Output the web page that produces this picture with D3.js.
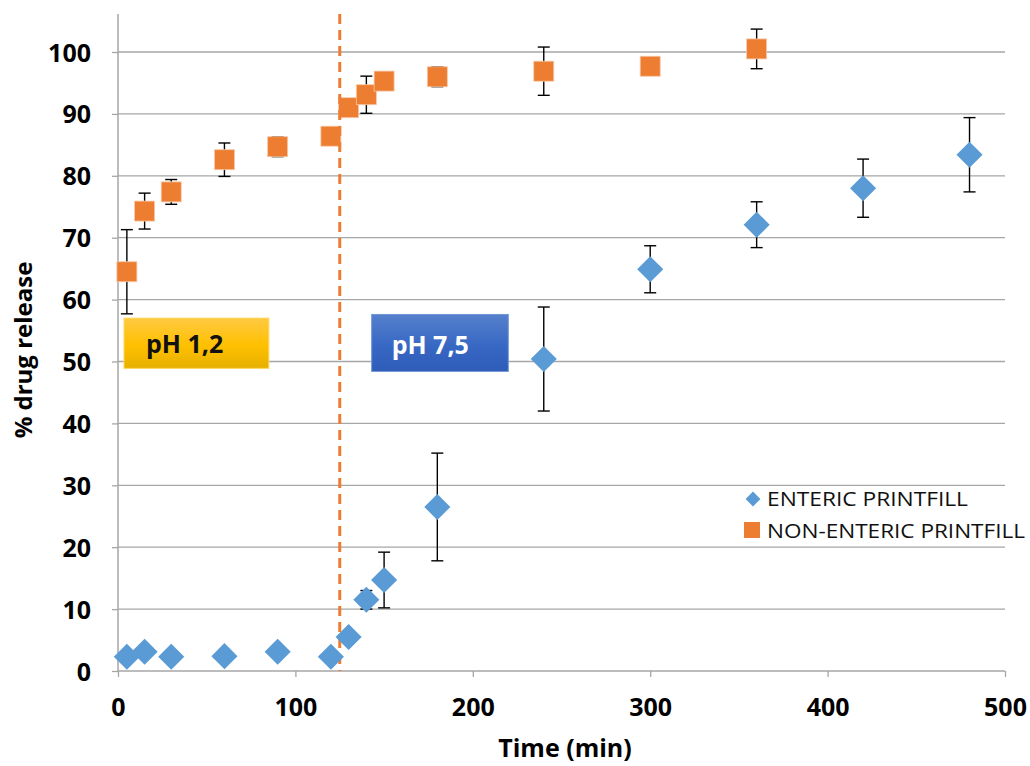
<!DOCTYPE html>
<html><head><meta charset="utf-8">
<script src="https://cdn.jsdelivr.net/npm/d3@7"></script>
<style>body{margin:0;background:#fff}</style>
</head><body>
<script>
const timeEnteric = [5,15,30,60,90,120,130,140,150,180,240,300,360,420,480];
const enteric =     [2.3,3.1,2.3,2.4,3.1,2.3,5.5,11.5,14.7,26.5,50.4,64.9,72.1,78.0,83.4];
const entericErr =  [0,0,0,0,0,0,0.8,1.5,4.5,8.7,8.4,3.8,3.7,4.7,6.0];
const timeNon = [5,15,30,60,90,120,130,140,150,180,240,300,360];
const nonEnteric =    [64.5,74.3,77.4,82.6,84.7,86.4,91.0,93.1,95.3,96.0,96.9,97.7,100.5];
const nonEntericErr = [6.8,2.9,2.0,2.7,1.6,0.4,0,3.0,0,1.6,3.9,0,3.2];
const xTicks = [0,100,200,300,400,500];
const yTicks = [0,10,20,30,40,50,60,70,80,90,100];
const seriesNames = ["ENTERIC PRINTFILL","NON-ENTERIC PRINTFILL"];
const phLabels = ["pH 1,2","pH 7,5"];
const phChange = 125;

const W=1030,H=766;
const svg=d3.select("body").append("svg").attr("width",W).attr("height",H);
const x=d3.scaleLinear().domain([0,500]).range([118,1005]);
const y=d3.scaleLinear().domain([0,100]).range([671,52]);
const font="'Open Sans', 'Liberation Sans', sans-serif";

const defs=svg.append("defs");
const g1=defs.append("linearGradient").attr("id","gold").attr("x1",0).attr("y1",0).attr("x2",0).attr("y2",1);
g1.append("stop").attr("offset","0%").attr("stop-color","#FFC942");
g1.append("stop").attr("offset","55%").attr("stop-color","#FFC000");
g1.append("stop").attr("offset","100%").attr("stop-color","#E6B000");
const g2=defs.append("linearGradient").attr("id","blue").attr("x1",0).attr("y1",0).attr("x2",0).attr("y2",1);
g2.append("stop").attr("offset","0%").attr("stop-color","#5580CC");
g2.append("stop").attr("offset","55%").attr("stop-color","#3768C4");
g2.append("stop").attr("offset","100%").attr("stop-color","#2E5CB8");

// gridlines
svg.append("g").selectAll("line").data(yTicks.slice(1)).join("line")
  .attr("x1",x(0)).attr("x2",x(500)).attr("y1",d=>y(d)).attr("y2",d=>y(d))
  .attr("stroke","#a6a6a6").attr("stroke-width",1.3);

// axes
const ya=svg.append("g").attr("transform",`translate(${x(0)},0)`)
  .call(d3.axisLeft(y).tickValues(yTicks).tickSize(6).tickPadding(21));
const xa=svg.append("g").attr("transform",`translate(0,${y(0)})`)
  .call(d3.axisBottom(x).tickValues(xTicks).tickSize(6).tickPadding(21));
[ya,xa].forEach(a=>{
  a.select(".domain").attr("stroke","#a6a6a6").attr("stroke-width",1.5);
  a.selectAll(".tick line").attr("stroke","#a6a6a6").attr("stroke-width",1.3);
  a.selectAll("text").attr("font-family",font).attr("font-weight","bold").attr("font-size",25).attr("fill","#000");
});
ya.selectAll("text").attr("dy","0.36em");
xa.select(".domain").attr("d",`M${x(0)},0H${x(500)}`);
ya.select(".domain").attr("d",`M0,${y(0)}V${y(100)-38}`);

// boxes
svg.append("rect").attr("x",x(3.4)).attr("y",y(57)).attr("width",x(85)-x(3.4)).attr("height",y(48.9)-y(57))
  .attr("fill","url(#gold)").attr("stroke","#FFD54F").attr("stroke-width",1);
svg.append("text").attr("x",x(3.4)+22).attr("y",y(48.9)-15)
  .attr("font-family",font).attr("font-weight","bold").attr("font-size",25).attr("fill","#111").text(phLabels[0]);
svg.append("rect").attr("x",x(143)).attr("y",y(57.6)).attr("width",x(220)-x(143)).attr("height",y(48.4)-y(57.6))
  .attr("fill","url(#blue)").attr("stroke","#6f94d6").attr("stroke-width",1);
svg.append("text").attr("x",x(143)+20).attr("y",y(48.4)-17)
  .attr("font-family",font).attr("font-weight","bold").attr("font-size",25).attr("fill","#fff").text(phLabels[1]);

// error bars
function errBars(ts,vs,es){
  const g=svg.append("g").attr("stroke","#000").attr("stroke-width",1.4);
  ts.forEach((t,i)=>{
    if(!es[i]) return;
    const cx=x(t),t1=y(vs[i]+es[i]),b1=y(vs[i]-es[i]);
    g.append("line").attr("x1",cx).attr("x2",cx).attr("y1",t1).attr("y2",b1);
    g.append("line").attr("x1",cx-6).attr("x2",cx+6).attr("y1",t1).attr("y2",t1);
    g.append("line").attr("x1",cx-6).attr("x2",cx+6).attr("y1",b1).attr("y2",b1);
  });
}
errBars(timeNon,nonEnteric,nonEntericErr);
errBars(timeEnteric,enteric,entericErr);

// markers
svg.append("g").selectAll("rect").data(timeNon).join("rect")
  .attr("x",(d)=>x(d)-10).attr("y",(d,i)=>y(nonEnteric[i])-10).attr("width",20).attr("height",20)
  .attr("fill","#ED7D31").attr("stroke","#f7c9a8").attr("stroke-width",0.8);

// dashed pH line
svg.append("line").attr("x1",x(phChange)).attr("x2",x(phChange)).attr("y1",14).attr("y2",y(0))
  .attr("stroke","#ED7D31").attr("stroke-width",3).attr("stroke-dasharray","10,6");

const dia=d3.symbol().type(d3.symbolSquare).size(340);
svg.append("g").selectAll("path").data(timeEnteric).join("path")
  .attr("d",dia).attr("transform",(d,i)=>`translate(${x(d)},${y(enteric[i])}) rotate(45)`)
  .attr("fill","#5B9BD5");

// legend
const lg=svg.append("g").attr("font-family",font).attr("font-size",20).attr("fill","#111");
lg.append("path").attr("d",d3.symbol().type(d3.symbolSquare).size(110)).attr("transform","translate(753,499) rotate(45)").attr("fill","#5B9BD5");
lg.append("text").attr("x",767).attr("y",506).attr("textLength",201).attr("lengthAdjust","spacingAndGlyphs").text(seriesNames[0]);
lg.append("rect").attr("x",744).attr("y",522).attr("width",16).attr("height",16).attr("fill","#ED7D31");
lg.append("text").attr("x",767).attr("y",538).attr("textLength",258).attr("lengthAdjust","spacingAndGlyphs").text(seriesNames[1]);

// titles
svg.append("text").attr("x",565).attr("y",757).attr("text-anchor","middle")
  .attr("font-family",font).attr("font-weight","bold").attr("font-size",25).text("Time (min)");
svg.append("text").attr("transform","translate(32,350) rotate(-90)").attr("text-anchor","middle")
  .attr("font-family",font).attr("font-weight","bold").attr("font-size",24).text("% drug release");
</script>
</body></html>
